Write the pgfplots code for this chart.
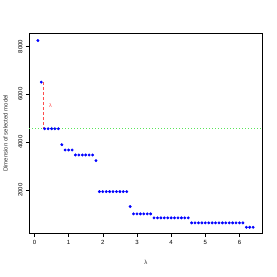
\documentclass[border=0pt]{standalone}
\usepackage{fontspec}
\setmainfont{Liberation Sans}
\usepackage{pgfplots}
\pgfplotsset{compat=1.18}
\definecolor{lgreen}{rgb}{0.35,0.9,0.35}
\definecolor{lred}{rgb}{1,0.3,0.3}
\begin{document}
\begin{tikzpicture}
\path (-29pt,-43pt) rectangle (248pt,234pt);
\begin{axis}[
  at={(0,0)}, anchor=south west,
  scale only axis, width=233pt, height=201pt,
  xmin=-0.146, xmax=6.66, ymin=187, ymax=8562,
  axis line style={black, line width=0.6pt},
  tick align=outside, major tick length=3.5pt,
  tick style={black, line width=0.5pt},
  xtick={0,1,2,3,4,5,6}, ytick={2000,4000,6000,8000},
  xtick pos=bottom, ytick pos=left,
  /pgf/number format/assume math mode=true,
  /pgf/number format/1000 sep={},
  ticklabel style={font=\fontsize{6}{7}\selectfont},
  yticklabel style={rotate=90, anchor=south},
  xlabel={λ}, ylabel={Dimension of selected model},
  label style={font=\fontsize{6}{7}\selectfont, text=black!80},
  xlabel style={at={(axis description cs:0.5,-0.144)}, anchor=center},
  ylabel style={at={(axis description cs:-0.103,0.5)}, anchor=center},
  clip=false,
]
\addplot[lgreen, dotted, line width=1pt] coordinates {(-0.146,4562) (6.66,4562)};
\addplot[color=lred, mark=none, dash pattern=on 3pt off 2pt, line width=1.2pt, line cap=butt] coordinates {(0.26,6508) (0.26,4562)};
\node[text=lred, font=\fontsize{5.5}{6}\selectfont] at (axis cs:0.47,5530) {λ};
\node[text=lgreen, font=\fontsize{4.5}{5}\selectfont] at (axis cs:0.52,4562) {λ};
\addplot[only marks, mark=*, mark size=1.25pt, blue, mark options={draw=blue, fill=blue}] table {
x y
0.1 8242
0.2 6508
0.3 4562
0.4 4562
0.5 4562
0.6 4562
0.7 4562
0.8 3896
0.9 3675
1.0 3675
1.1 3675
1.2 3467
1.3 3467
1.4 3467
1.5 3467
1.6 3467
1.7 3467
1.8 3229
1.9 1937
2.0 1937
2.1 1937
2.2 1937
2.3 1937
2.4 1937
2.5 1937
2.6 1937
2.7 1937
2.8 1312
2.9 1008
3.0 1008
3.1 1008
3.2 1008
3.3 1008
3.4 1008
3.5 841
3.6 841
3.7 841
3.8 841
3.9 841
4.0 841
4.1 841
4.2 841
4.3 841
4.4 841
4.5 841
4.6 633
4.7 633
4.8 633
4.9 633
5.0 633
5.1 633
5.2 633
5.3 633
5.4 633
5.5 633
5.6 633
5.7 633
5.8 633
5.9 633
6.0 633
6.1 633
6.2 450
6.3 450
6.4 450
};
\end{axis}
\end{tikzpicture}
\end{document}
